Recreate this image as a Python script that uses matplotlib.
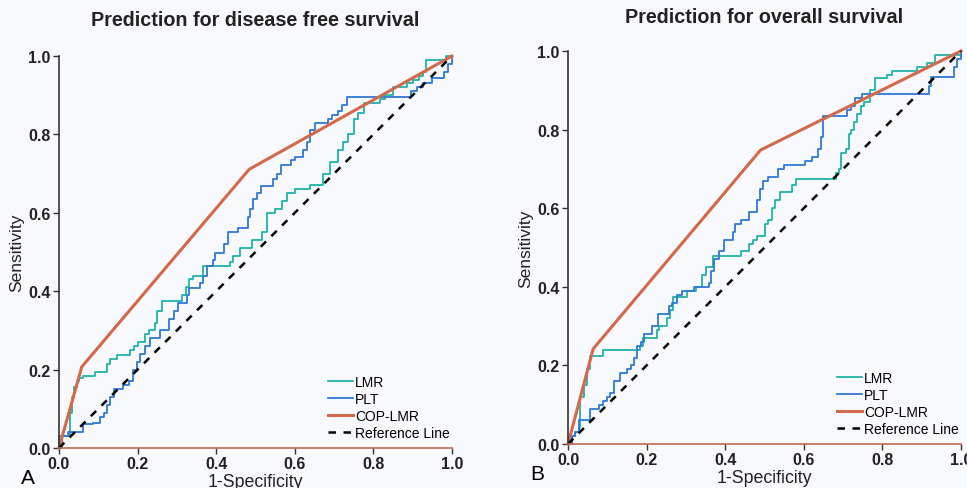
import matplotlib.pyplot as plt
import numpy as np

plt.rcParams['font.family'] = ['Liberation Sans', 'DejaVu Sans']

# ROC step points (1-specificity where the jump happens, new sensitivity)
dfs_lmr_x = [0, 0.0, 0.028, 0.032, 0.038, 0.045, 0.052, 0.062, 0.092, 0.121, 0.13, 0.147, 0.18, 0.19, 0.2,
             0.22, 0.23, 0.245, 0.25, 0.262, 0.312, 0.322, 0.332, 0.34, 0.367, 0.435, 0.444, 0.46, 0.49,
             0.516, 0.53, 0.55, 0.567, 0.58, 0.6, 0.64, 0.672, 0.69, 0.71, 0.722, 0.735, 0.75, 0.76, 0.775,
             0.817, 0.83, 0.85, 0.885, 0.9, 0.915, 0.925, 0.935, 0.986, 1.0]
dfs_lmr_y = [0, 0.03, 0.09, 0.13, 0.155, 0.17, 0.178, 0.184, 0.195, 0.214, 0.227, 0.237, 0.25, 0.26, 0.27,
             0.29, 0.30, 0.32, 0.35, 0.375, 0.39, 0.41, 0.43, 0.44, 0.465, 0.475, 0.49, 0.51, 0.53,
             0.55, 0.6, 0.61, 0.63, 0.65, 0.66, 0.67, 0.7, 0.73, 0.76, 0.78, 0.8, 0.84, 0.855, 0.88,
             0.89, 0.9, 0.92, 0.93, 0.94, 0.95, 0.96, 0.99, 1.0, 1.0]

dfs_plt_x = [0, 0.008, 0.024, 0.06, 0.087, 0.104, 0.115, 0.121, 0.13, 0.14, 0.164, 0.178, 0.188, 0.198,
             0.205, 0.22, 0.232, 0.257, 0.28, 0.293, 0.304, 0.325, 0.332, 0.36, 0.366, 0.376, 0.393, 0.398,
             0.42, 0.43, 0.456, 0.48, 0.487, 0.494, 0.505, 0.515, 0.545, 0.556, 0.565, 0.59, 0.6, 0.62,
             0.63, 0.64, 0.652, 0.685, 0.695, 0.71, 0.72, 0.732, 0.897, 0.91, 0.925, 0.95, 0.98, 0.99, 1.0]
dfs_plt_y = [0, 0.03, 0.042, 0.06, 0.065, 0.08, 0.09, 0.11, 0.13, 0.15, 0.16, 0.17, 0.2, 0.22,
             0.24, 0.26, 0.28, 0.30, 0.33, 0.35, 0.37, 0.39, 0.407, 0.42, 0.44, 0.465, 0.48, 0.497,
             0.52, 0.55, 0.56, 0.59, 0.61, 0.635, 0.65, 0.669, 0.685, 0.70, 0.722, 0.735, 0.743, 0.76,
             0.78, 0.81, 0.83, 0.84, 0.85, 0.86, 0.875, 0.895, 0.91, 0.92, 0.93, 0.945, 0.96, 0.98, 1.0]

dfs_cop_x = [0, 0.058, 0.484, 1.0]
dfs_cop_y = [0, 0.207, 0.711, 1.0]

os_lmr_x = [0, 0.01, 0.019, 0.027, 0.031, 0.04, 0.048, 0.057, 0.09, 0.184, 0.19, 0.227, 0.232, 0.252, 0.26,
            0.268, 0.303, 0.325, 0.34, 0.35, 0.368, 0.439, 0.46, 0.47, 0.48, 0.5, 0.51, 0.52, 0.527, 0.54,
            0.57, 0.579, 0.681, 0.69, 0.694, 0.707, 0.715, 0.72, 0.727, 0.735, 0.745, 0.752, 0.768, 0.78,
            0.812, 0.825, 0.889, 0.914, 0.935, 0.999, 1.0]
os_lmr_y = [0, 0.02, 0.03, 0.04, 0.12, 0.15, 0.19, 0.223, 0.24, 0.25, 0.27, 0.29, 0.30, 0.32, 0.34,
            0.373, 0.39, 0.40, 0.43, 0.45, 0.478, 0.49, 0.51, 0.52, 0.53, 0.56, 0.57, 0.6, 0.62, 0.64,
            0.66, 0.673, 0.69, 0.70, 0.74, 0.75, 0.79, 0.80, 0.82, 0.84, 0.86, 0.87, 0.9, 0.93,
            0.94, 0.95, 0.96, 0.97, 0.99, 1.0, 1.0]

os_plt_x = [0, 0.01, 0.018, 0.027, 0.057, 0.078, 0.09, 0.1, 0.108, 0.118, 0.133, 0.15, 0.16, 0.168, 0.176,
            0.185, 0.193, 0.214, 0.23, 0.256, 0.264, 0.278, 0.29, 0.32, 0.358, 0.365, 0.371, 0.384, 0.396,
            0.42, 0.426, 0.439, 0.46, 0.48, 0.488, 0.495, 0.51, 0.535, 0.55, 0.604, 0.62, 0.635, 0.643,
            0.65, 0.71, 0.72, 0.73, 0.749, 0.918, 0.924, 0.982, 0.99, 1.0]
os_plt_y = [0, 0.02, 0.03, 0.06, 0.09, 0.10, 0.11, 0.12, 0.13, 0.16, 0.18, 0.19, 0.2, 0.22, 0.25,
            0.26, 0.28, 0.30, 0.33, 0.35, 0.36, 0.38, 0.39, 0.40, 0.41, 0.44, 0.47, 0.49, 0.52,
            0.54, 0.56, 0.57, 0.59, 0.62, 0.65, 0.67, 0.68, 0.70, 0.71, 0.72, 0.73, 0.75, 0.78,
            0.834, 0.85, 0.86, 0.88, 0.89, 0.91, 0.935, 0.96, 0.98, 1.0]

os_cop_x = [0, 0.064, 0.49, 1.0]
os_cop_y = [0, 0.242, 0.748, 1.0]

ticks = [0.0, 0.2, 0.4, 0.6, 0.8, 1.0]
c_lmr = '#1fb3a8'
c_plt = '#2f78d6'
c_cop = '#d4684a'

fig = plt.figure(figsize=(9.67, 4.89), dpi=100, facecolor='#f8f9fd')

panels = [
    ([0.061, 0.0818, 0.4064, 0.8016], 'Prediction for disease free survival', 'A', 22,
     dfs_lmr_x, dfs_lmr_y, dfs_plt_x, dfs_plt_y, dfs_cop_x, dfs_cop_y),
    ([0.5874, 0.090, 0.4064, 0.8037], 'Prediction for overall survival', 'B', 21,
     os_lmr_x, os_lmr_y, os_plt_x, os_plt_y, os_cop_x, os_cop_y),
]

for rect, title, letter, tpad, lx, ly, px, py, cx, cy in panels:
    ax = fig.add_axes(rect)
    ax.set_facecolor('#f8f9fd')
    ax.plot(lx, ly, drawstyle='steps-post', color=c_lmr, lw=1.3, label='LMR', clip_on=False)
    ax.plot(px, py, drawstyle='steps-post', color=c_plt, lw=1.3, label='PLT', clip_on=False)
    ax.plot(cx, cy, color=c_cop, lw=2.2, label='COP-LMR', clip_on=False)
    ax.plot([0, 1], [0, 1], color='black', lw=1.8, ls=(0, (3, 3)), label='Reference Line', clip_on=False)
    ax.set_xlim(0, 1)
    ax.set_ylim(0, 1)
    ax.set_xticks(ticks)
    ax.set_yticks(ticks)
    ax.set_xticklabels([f'{t:.1f}' for t in ticks], fontweight='bold', fontsize=11.5)
    ax.set_yticklabels([f'{t:.1f}' for t in ticks], fontweight='bold', fontsize=11.5)
    ax.tick_params(direction='out', length=4, width=1, color='#333333', pad=2, labelcolor='#222222')
    ax.spines['top'].set_visible(False)
    ax.spines['right'].set_visible(False)
    ax.spines['left'].set_color('#3a3232')
    ax.spines['bottom'].set_color('#c06a52')
    ax.spines['left'].set_linewidth(1.2)
    ax.spines['bottom'].set_linewidth(1.2)
    ax.set_title(title, fontsize=14.2, fontweight='bold', pad=tpad, color='#222222')
    ax.set_xlabel('1-Specificity', fontsize=12.8, labelpad=1, color='#222222')
    ax.set_ylabel('Sensitivity', fontsize=12.5, labelpad=3, color='#222222')
    ax.text(-0.078, -0.075, letter, transform=ax.transAxes, fontsize=15, va='center', ha='center')
    ax.legend(loc='lower right', bbox_to_anchor=(1.015, 0.0), frameon=False, fontsize=10,
              handlelength=1.8, handletextpad=0.1, labelspacing=0.2, borderaxespad=0.2)

fig.savefig('out.png', dpi=100, facecolor=fig.get_facecolor())
